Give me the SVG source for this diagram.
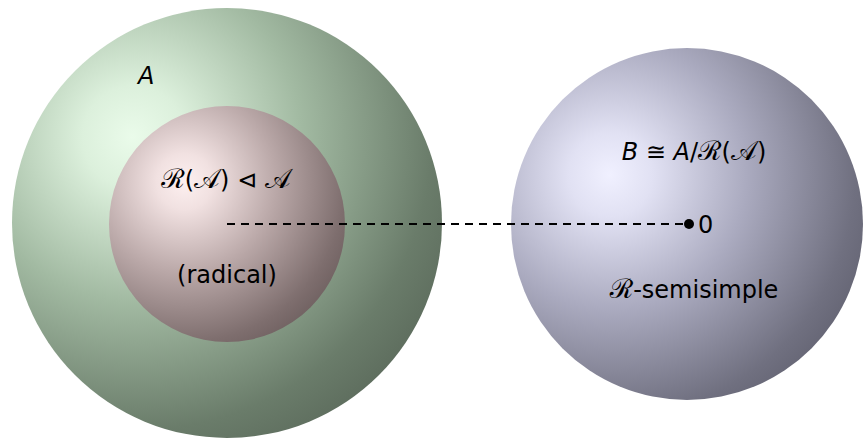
<svg xmlns="http://www.w3.org/2000/svg" width="865" height="439" viewBox="0 0 865 439">
<style>
.t{font-family:"DejaVu Sans","Noto Sans",sans-serif;fill:#000;font-size:24px}
.i{font-style:italic}
.c{font-family:"DejaVu Serif","Noto Sans",serif;font-style:normal;font-size:27px}
</style>
<defs>
<radialGradient id="gG" cx="0.3" cy="0.3" r="0.85" fx="0.28" fy="0.3">
<stop offset="0" stop-color="#eafbea"/>
<stop offset="0.14" stop-color="#dcf0dc"/>
<stop offset="0.45" stop-color="#a2baa2"/>
<stop offset="0.8" stop-color="#6a7c6a"/>
<stop offset="1" stop-color="#586658"/>
</radialGradient>
<radialGradient id="gP" cx="0.32" cy="0.32" r="0.85" fx="0.32" fy="0.32">
<stop offset="0" stop-color="#fdf0f0"/>
<stop offset="0.14" stop-color="#f1e1e1"/>
<stop offset="0.45" stop-color="#bba9a9"/>
<stop offset="0.8" stop-color="#7e6e6e"/>
<stop offset="1" stop-color="#645656"/>
</radialGradient>
<radialGradient id="gB" cx="0.3" cy="0.36" r="0.85" fx="0.28" fy="0.36">
<stop offset="0" stop-color="#f0f0ff"/>
<stop offset="0.14" stop-color="#e1e1f3"/>
<stop offset="0.45" stop-color="#aaaabf"/>
<stop offset="0.8" stop-color="#707080"/>
<stop offset="1" stop-color="#5a5a68"/>
</radialGradient>
</defs>
<g id="A">
<circle cx="227" cy="223" r="215" fill="url(#gG)"/>
<text class="t i" x="138" y="84" font-size="25">A</text>
</g>
<g id="radical">
<circle cx="227" cy="224" r="118" fill="url(#gP)"/>
<text class="t" x="226" y="188" text-anchor="middle"><tspan class="c">ℛ</tspan>(<tspan class="c">𝒜</tspan>) ⊲ <tspan class="c">𝒜</tspan></text>
<text class="t" x="227" y="283" text-anchor="middle">(radical)</text>
</g>
<g id="B">
<circle cx="687" cy="224" r="176" fill="url(#gB)"/>
<text class="t" x="694" y="160" text-anchor="middle"><tspan class="i">B</tspan> ≅ <tspan class="i">A</tspan>/<tspan class="c">ℛ</tspan>(<tspan class="c">𝒜</tspan>)</text>
<text class="t" x="694" y="298" text-anchor="middle"><tspan class="c">ℛ</tspan>-semisimple</text>
</g>
<g id="connectors">
<line x1="227" y1="224" x2="686" y2="224" stroke="#000" stroke-width="2" stroke-dasharray="8 6"/>
<circle cx="689" cy="224" r="5" fill="#000"/>
<text class="t" x="698" y="233" font-size="23">0</text>
</g>
</svg>
